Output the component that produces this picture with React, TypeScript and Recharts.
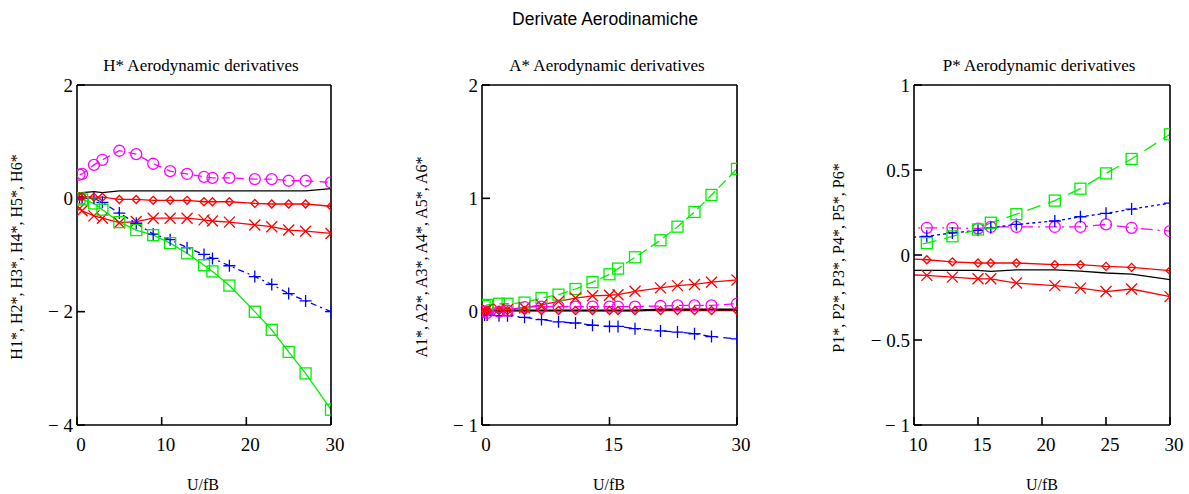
import React from "react";
import { LineChart, Line, XAxis, YAxis } from "recharts";

// U/fB stations
const uHA = [0.3, 0.6, 2, 3, 5, 7, 9, 11, 13, 15, 16, 18, 21, 23, 25, 27, 30];
const uP = [9, 11, 13, 15, 16, 18, 21, 23, 25, 27, 30];

// H* derivatives
const h1 = [0.03, 0.03, 0.02, 0.02, -0.02, -0.02, -0.035, -0.035, -0.035, -0.06, -0.06, -0.06, -0.09, -0.1, -0.1, -0.1, -0.14];
const h2 = [0.0, 0.0, 0.0, -0.07, -0.26, -0.44, -0.63, -0.73, -0.87, -0.99, -1.06, -1.19, -1.38, -1.52, -1.68, -1.81, -2.0];
const h3 = [0.0, -0.02, -0.09, -0.2, -0.42, -0.56, -0.65, -0.79, -0.97, -1.18, -1.29, -1.54, -2.0, -2.32, -2.71, -3.09, -3.73];
const h4 = [0.42, 0.43, 0.59, 0.68, 0.84, 0.78, 0.61, 0.48, 0.43, 0.38, 0.36, 0.36, 0.34, 0.34, 0.31, 0.31, 0.28];
const h5 = [-0.18, -0.22, -0.31, -0.35, -0.43, -0.41, -0.35, -0.35, -0.35, -0.38, -0.4, -0.42, -0.47, -0.5, -0.56, -0.58, -0.62];
const h6 = [0.08, 0.1, 0.12, 0.1, 0.13, 0.13, 0.13, 0.13, 0.13, 0.13, 0.13, 0.13, 0.13, 0.13, 0.13, 0.13, 0.17];

// A* derivatives
const a1 = [0.0, 0.01, 0.01, 0.01, 0.01, 0.01, 0.01, 0.01, 0.01, 0.01, 0.01, 0.01, 0.01, 0.01, 0.01, 0.01, 0.01];
const a2 = [-0.03, -0.03, -0.035, -0.035, -0.05, -0.07, -0.09, -0.1, -0.12, -0.13, -0.13, -0.15, -0.17, -0.18, -0.195, -0.22, -0.24];
const a3 = [0.05, 0.06, 0.07, 0.07, 0.08, 0.12, 0.15, 0.2, 0.26, 0.33, 0.38, 0.48, 0.63, 0.75, 0.88, 1.03, 1.26];
const a4 = [0.0, -0.01, 0.0, 0.01, 0.04, 0.045, 0.045, 0.045, 0.045, 0.045, 0.045, 0.045, 0.05, 0.055, 0.055, 0.055, 0.07];
const a5 = [0.01, 0.02, 0.02, 0.02, 0.035, 0.06, 0.09, 0.12, 0.14, 0.145, 0.15, 0.18, 0.21, 0.23, 0.24, 0.26, 0.28];
const a6 = [0.01, 0.01, 0.01, 0.01, 0.01, 0.01, 0.01, 0.01, 0.01, 0.01, 0.01, 0.01, 0.02, 0.02, 0.02, 0.02, 0.02];

// P* derivatives
const p1 = [-0.02, -0.028, -0.04, -0.047, -0.047, -0.047, -0.057, -0.057, -0.067, -0.073, -0.092];
const p2 = [0.1, 0.11, 0.13, 0.145, 0.16, 0.18, 0.2, 0.225, 0.245, 0.27, 0.305];
const p3 = [0.04, 0.07, 0.11, 0.15, 0.19, 0.24, 0.32, 0.39, 0.48, 0.565, 0.71];
const p4 = [0.16, 0.16, 0.16, 0.155, 0.165, 0.165, 0.165, 0.165, 0.18, 0.16, 0.14];
const p5 = [-0.115, -0.12, -0.13, -0.14, -0.14, -0.165, -0.18, -0.195, -0.215, -0.2, -0.245];
const p6 = [-0.09, -0.09, -0.09, -0.09, -0.096, -0.088, -0.088, -0.095, -0.106, -0.112, -0.145];

// axis ticks
const hxTicks = [0, 10, 20, 30];
const hyTicks = [-4, -2, 0, 2];
const axTicks = [0, 15, 30];
const ayTicks = [-1, 0, 1, 2];
const pxTicks = [10, 15, 20, 25, 30];
const pyTicks = [-1, -0.5, 0, 0.5, 1];

const serif = "'Liberation Serif', 'Times New Roman', Times, serif";
const sans = "'Liberation Sans', Arial, sans-serif";

const MAGENTA = "#ff00ff";
const RED = "#ff0000";
const BLUE = "#0000ff";
const GREEN = "#00ee00";
const BLACK = "#000000";

const makeDot = (kind: string, color: string) => (p: any) => {
  const { cx, cy, index } = p;
  const s = { stroke: color, strokeWidth: 1.3, fill: "none" };
  if (cx == null || cy == null || kind === "none") return <g key={index} />;
  if (kind === "circle") return <circle key={index} cx={cx} cy={cy} r={5.5} {...s} />;
  if (kind === "square") return <rect key={index} x={cx - 5.5} y={cy - 5.5} width={11} height={11} {...s} />;
  if (kind === "diamond")
    return <path key={index} d={`M${cx},${cy - 4}L${cx + 4},${cy}L${cx},${cy + 4}L${cx - 4},${cy}Z`} {...s} />;
  if (kind === "cross")
    return <path key={index} d={`M${cx - 5.5},${cy - 5.5}L${cx + 5.5},${cy + 5.5}M${cx - 5.5},${cy + 5.5}L${cx + 5.5},${cy - 5.5}`} {...s} />;
  return <path key={index} d={`M${cx - 6},${cy}L${cx + 6},${cy}M${cx},${cy - 6}L${cx},${cy + 6}`} {...s} />;
};

const fmt = (v: number) => (v < 0 ? `\u2212 ${Math.abs(v)}` : String(v));

const XTick = (props: any) => (
  <text x={props.x + 4} y={props.y} dy="0.75em" textAnchor="middle" fontFamily={serif} fontSize={19} fill="#000">
    {fmt(props.payload.value)}
  </text>
);

const YTick = (props: any) => (
  <text x={props.x} y={props.y} dy="0.35em" textAnchor="end" fontFamily={serif} fontSize={19} fill="#000">
    {fmt(props.payload.value)}
  </text>
);

interface Series {
  key: string;
  values: number[];
  kind: string;
  color: string;
  dash?: string;
  width?: number;
}

interface PanelProps {
  left: number;
  width: number;
  yAxisWidth: number;
  u: number[];
  series: Series[];
  xDomain: [number, number];
  yDomain: [number, number];
  xTicks: number[];
  yTicks: number[];
}

const frame = { stroke: "#000", strokeWidth: 1.6 };

function Panel({ left, width, yAxisWidth, u, series, xDomain, yDomain, xTicks, yTicks }: PanelProps) {
  const data = u.map((x, i) => {
    const row: any = { u: x };
    series.forEach((s) => (row[s.key] = s.values[i]));
    return row;
  });
  return (
    <div style={{ position: "absolute", left, top: 0 }}>
      <LineChart width={width} height={494} data={data} margin={{ top: 84, right: 18, bottom: 29, left: 0 }}>
        <XAxis
          xAxisId="b"
          dataKey="u"
          type="number"
          domain={xDomain}
          allowDataOverflow
          ticks={xTicks}
          interval={0}
          height={40}
          axisLine={frame}
          tickLine={frame}
          tickSize={-8}
          tickMargin={20}
          tick={<XTick />}
        />
        <XAxis
          xAxisId="t"
          dataKey="u"
          orientation="top"
          type="number"
          domain={xDomain}
          allowDataOverflow
          ticks={xTicks}
          interval={0}
          height={1}
          axisLine={frame}
          tickLine={frame}
          tickSize={-8}
          tick={false}
        />
        <YAxis
          yAxisId="l"
          type="number"
          domain={yDomain}
          allowDataOverflow
          ticks={yTicks}
          interval={0}
          width={yAxisWidth}
          axisLine={frame}
          tickLine={frame}
          tickSize={-8}
          tickMargin={12}
          tick={<YTick />}
        />
        <YAxis
          yAxisId="r"
          orientation="right"
          type="number"
          domain={yDomain}
          allowDataOverflow
          ticks={yTicks}
          interval={0}
          width={1}
          axisLine={frame}
          tickLine={frame}
          tickSize={-8}
          tick={false}
        />
        <Line
          xAxisId="t"
          yAxisId="r"
          dataKey={series[0].key}
          stroke="none"
          dot={false}
          activeDot={false}
          isAnimationActive={false}
        />
        {series.map((s) => (
          <Line
            key={s.key}
            xAxisId="b"
            yAxisId="l"
            type="linear"
            dataKey={s.key}
            stroke={s.color}
            strokeWidth={s.width ?? 1.3}
            strokeDasharray={s.dash}
            dot={makeDot(s.kind, s.color)}
            activeDot={false}
            isAnimationActive={false}
          />
        ))}
      </LineChart>
    </div>
  );
}

const Label = ({ x, y, text, size, font, rotate }: any) => (
  <div
    style={{
      position: "absolute",
      left: x,
      top: y,
      transform: `translate(-50%, -50%)${rotate ? " rotate(-90deg)" : ""}`,
      whiteSpace: "nowrap",
      fontFamily: font,
      fontSize: size,
      lineHeight: 1,
      color: "#000",
    }}
  >
    {text}
  </div>
);

export default function App() {
  const hSeries: Series[] = [
    { key: "h6", values: h6, kind: "none", color: BLACK },
    { key: "h4", values: h4, kind: "circle", color: MAGENTA, dash: "8 6" },
    { key: "h5", values: h5, kind: "cross", color: RED },
    { key: "h2", values: h2, kind: "plus", color: BLUE, dash: "6 4 2 4" },
    { key: "h3", values: h3, kind: "square", color: GREEN },
    { key: "h1", values: h1, kind: "diamond", color: RED },
  ];
  const aSeries: Series[] = [
    { key: "a2", values: a2, kind: "plus", color: BLUE, dash: "8 5 2 5" },
    { key: "a3", values: a3, kind: "square", color: GREEN, dash: "10 5" },
    { key: "a5", values: a5, kind: "cross", color: RED },
    { key: "a4", values: a4, kind: "circle", color: MAGENTA, dash: "10 5" },
    { key: "a1", values: a1, kind: "diamond", color: RED },
    { key: "a6", values: a6, kind: "none", color: BLACK, width: 2 },
  ];
  const pSeries: Series[] = [
    { key: "p6", values: p6, kind: "none", color: BLACK },
    { key: "p4", values: p4, kind: "circle", color: MAGENTA, dash: "12 5 2 5" },
    { key: "p2", values: p2, kind: "plus", color: BLUE, dash: "3 3" },
    { key: "p3", values: p3, kind: "square", color: GREEN, dash: "14 8" },
    { key: "p1", values: p1, kind: "diamond", color: RED },
    { key: "p5", values: p5, kind: "cross", color: RED },
  ];

  return (
    <div style={{ position: "relative", width: 1189, height: 494, background: "#fff", overflow: "hidden" }}>
      <style>{`body{margin:0}`}</style>
      <Label x={605} y={20} text="Derivate Aerodinamiche" size={17.5} font={sans} />

      <Label x={201} y={65} text="H* Aerodynamic derivatives" size={17} font={serif} />
      <Label x={607} y={65} text="A* Aerodynamic derivatives" size={17} font={serif} />
      <Label x={1039} y={65} text="P* Aerodynamic derivatives" size={17} font={serif} />

      <Label x={203} y={485} text="U/fB" size={16} font={serif} />
      <Label x={609} y={485} text="U/fB" size={16} font={serif} />
      <Label x={1042} y={485} text="U/fB" size={16} font={serif} />

      <Label x={17} y={257} text="H1*, H2*, H3*, H4*, H5*, H6*" size={16} font={serif} rotate />
      <Label x={422} y={257} text="A1*, A2*, A3*, A4*, A5*, A6*" size={16} font={serif} rotate />
      <Label x={839} y={258} text="P1*, P2*, P3*, P4*, P5*, P6*" size={16} font={serif} rotate />

      <Panel left={0} width={350} yAxisWidth={77} u={uHA} series={hSeries} xDomain={[0, 30]} yDomain={[-4, 2]} xTicks={hxTicks} yTicks={hyTicks} />
      <Panel left={420} width={336} yAxisWidth={62} u={uHA} series={aSeries} xDomain={[0, 30]} yDomain={[-1, 2]} xTicks={axTicks} yTicks={ayTicks} />
      <Panel left={850} width={339} yAxisWidth={64} u={uP} series={pSeries} xDomain={[10, 30]} yDomain={[-1, 1]} xTicks={pxTicks} yTicks={pyTicks} />
    </div>
  );
}
